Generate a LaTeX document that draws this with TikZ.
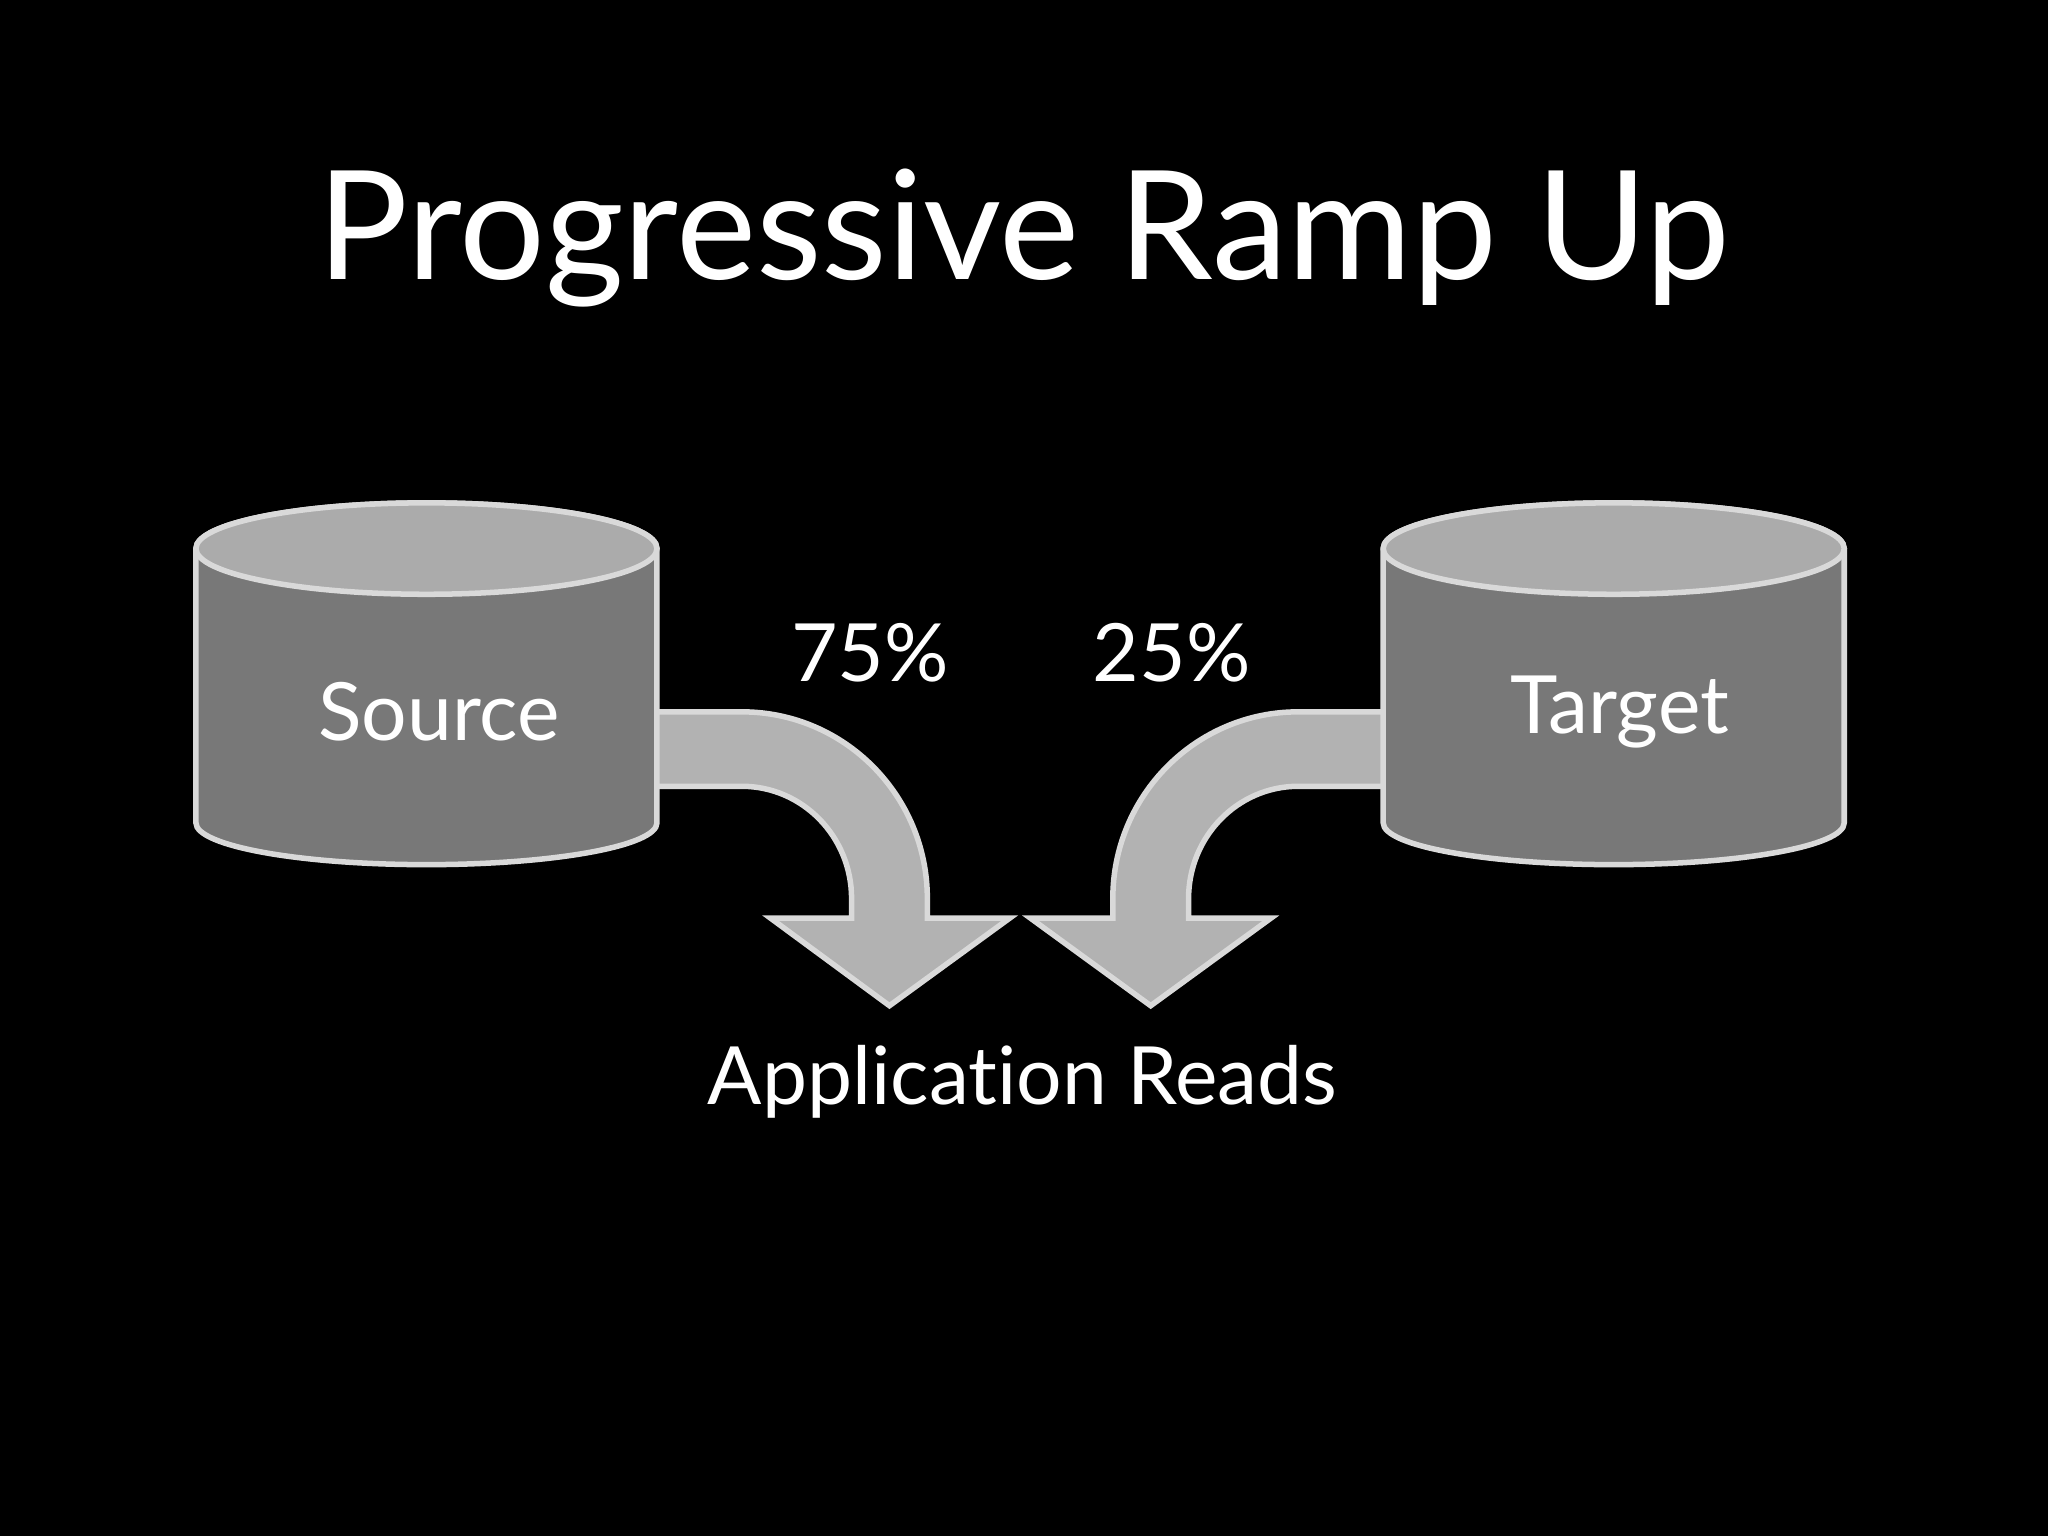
\documentclass[tikz,border=0pt]{standalone}
\usepackage{fontspec}
\setmainfont{Lato}[Ligatures={NoCommon}]
\begin{document}
\begin{tikzpicture}[x=0.01cm,y=-0.01cm,
  edge/.style={draw=gray!30,line width=1.2pt},
  body/.style={edge,fill=black!53},
  lid/.style={edge,fill=black!33},
  arr/.style={edge,fill=black!30,line join=miter},
  lbl/.style={text=white,font=\fontsize{17.5pt}{21pt}\selectfont}]
\fill[black] (0,0) rectangle (1568,1176);
\useasboundingbox (0,0) rectangle (1568,1176);
\node[text=white,font=\fontsize{33pt}{38pt}\selectfont] (title) at (784,182) {Progressive Ramp Up};
% Source cylinder
\draw[body] (150,420) -- (150,630) arc[start angle=180,end angle=0,x radius=176.5,y radius=32] -- (503,420) arc[start angle=0,end angle=-180,x radius=176.5,y radius=35];
\draw[lid] (326.5,420) ellipse[x radius=176.5,y radius=35];
\node[lbl] (source) at (336,545) {Source};
% Target cylinder
\draw[body] (1059,420) -- (1059,630) arc[start angle=180,end angle=0,x radius=176.5,y radius=32] -- (1412,420) arc[start angle=0,end angle=-180,x radius=176.5,y radius=35];
\draw[lid] (1235.5,420) ellipse[x radius=176.5,y radius=35];
\node[lbl] (target) at (1240,545) {Target};
% left arrow
\draw[arr] (503,545) -- (568,545) arc[start angle=-90,end angle=0,x radius=142,y radius=143] -- (710,703) -- (773,703) -- (681,770) -- (590,703) -- (652,703) -- (652,688) arc[start angle=0,end angle=-90,x radius=84,y radius=86] -- (503,602) -- cycle;
% right arrow
\draw[arr] (1059,545) -- (994,545) arc[start angle=270,end angle=180,x radius=142,y radius=143] -- (852,703) -- (789,703) -- (881,770) -- (973,703) -- (910,703) -- (910,688) arc[start angle=180,end angle=270,x radius=84,y radius=86] -- (1059,602) -- cycle;
\node[lbl] (p75) at (666,500) {75\%};
\node[lbl] (p25) at (897,500) {25\%};
\node[lbl] (app) at (783,828) {Application Reads};
\end{tikzpicture}
\end{document}
